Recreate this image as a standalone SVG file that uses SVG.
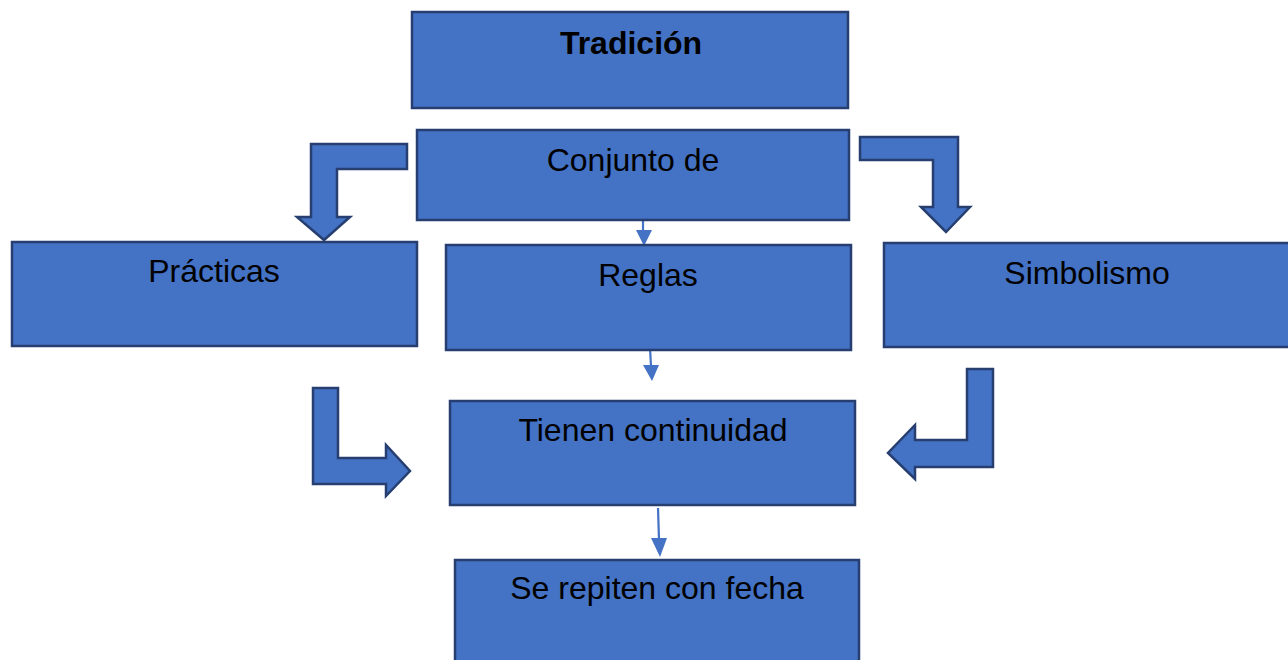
<svg xmlns="http://www.w3.org/2000/svg" width="1288" height="660" viewBox="0 0 1288 660">
<style>
.box{fill:#4472C4;stroke:#263F70;stroke-width:2.5}
.bend{fill:#4472C4;stroke:#263F70;stroke-width:2.5;stroke-linejoin:miter}
.t{font-family:"Liberation Sans",Arial,sans-serif;font-size:32px;fill:#000;text-anchor:middle}
.b{font-weight:bold}
.line{stroke:#4472C4;stroke-width:2.2;fill:none}
.head{fill:#4472C4}
</style>
<rect width="1288" height="660" fill="#fff"/>
<g id="connectors">
<polygon class="bend" points="407,144 311,144 311,217 297,217 324,240 350,217 337,217 337,169 407,169"/>
<polygon class="bend" points="860,137 958,137 958,207 970,207 946,232 921,207 933,207 933,160 860,160"/>
<polygon class="bend" points="313,388 338,388 338,458 386,458 386,445 410,471 386,496 386,484 313,484"/>
<polygon class="bend" points="993,369 967,369 967,440 915,440 915,425 888,453 915,479 915,467 993,467"/>
<line class="line" x1="643" y1="221" x2="643" y2="232"/>
<polygon class="head" points="636,230 652,230 644,246"/>
<line class="line" x1="650" y1="348" x2="651" y2="366"/>
<polygon class="head" points="643,365 659,365 652,381"/>
<line class="line" x1="658" y1="508" x2="659" y2="540"/>
<polygon class="head" points="651,538 667,538 660,557"/>
</g>
<g id="n-tradicion">
<rect class="box" x="412" y="12" width="436" height="96"/>
<text class="t b" x="631" y="54">Tradición</text>
</g>
<g id="n-conjunto">
<rect class="box" x="417" y="130" width="432" height="90"/>
<text class="t" x="633" y="171">Conjunto de</text>
</g>
<g id="n-practicas">
<rect class="box" x="12" y="242" width="405" height="104"/>
<text class="t" x="214" y="282">Prácticas</text>
</g>
<g id="n-reglas">
<rect class="box" x="446" y="245" width="405" height="105"/>
<text class="t" x="648" y="286">Reglas</text>
</g>
<g id="n-simbolismo">
<rect class="box" x="884" y="243" width="406" height="104"/>
<text class="t" x="1087" y="284">Simbolismo</text>
</g>
<g id="n-tienen">
<rect class="box" x="450" y="401" width="405" height="104"/>
<text class="t" x="653" y="441">Tienen continuidad</text>
</g>
<g id="n-repiten">
<rect class="box" x="455" y="560" width="404" height="110"/>
<text class="t" x="657" y="599">Se repiten con fecha</text>
</g>
</svg>
